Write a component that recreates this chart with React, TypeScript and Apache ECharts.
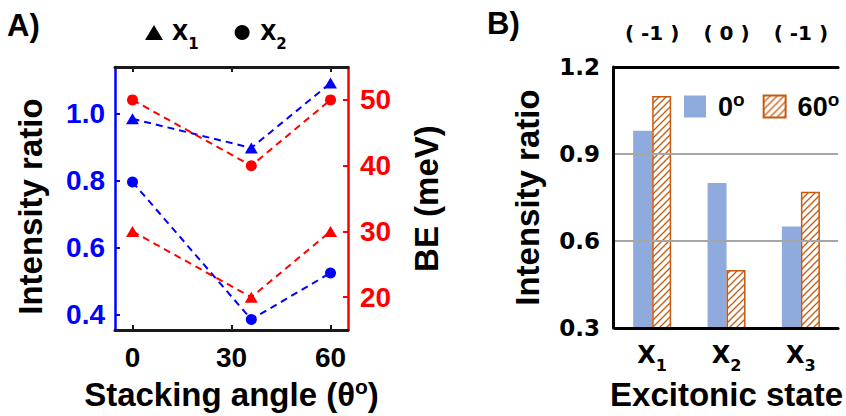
import React, { useEffect, useRef } from 'react';
import * as echarts from 'echarts';

// ---- Panel A data ----
const angles = [0, 36, 60];
const x1Ratio = [0.985, 0.898, 1.092];
const x2Ratio = [0.796, 0.385, 0.524];
const x1BE = [30, 20, 30];
const x2BE = [50, 40, 50];
const angleTicks = [0, 30, 60];
const ratioTicks = [0.4, 0.6, 0.8, 1.0];
const beTicks = [20, 30, 40, 50];

// ---- Panel B data ----
const states = ['X1', 'X2', 'X3'];
const charges = ['( -1 )', '( 0 )', '( -1 )'];
const ratio0 = [0.98, 0.8, 0.65];
const ratio60 = [1.1, 0.5, 0.77];

const FONT = '"Liberation Sans", Arial, Helvetica, sans-serif';
const WIDE = '"DejaVu Sans", Verdana, sans-serif';
const BLUE = '#0000FF';
const RED = '#FF0000';
const BLACK = '#1a1a1a';
const BAR_BLUE = '#8FAADC';
const ORANGE = '#C55A11';

function makeHatch(): HTMLCanvasElement {
  const c = document.createElement('canvas');
  const s = 7;
  c.width = s;
  c.height = s;
  const ctx = c.getContext('2d')!;
  ctx.fillStyle = '#ffffff';
  ctx.fillRect(0, 0, s, s);
  ctx.strokeStyle = ORANGE;
  ctx.lineWidth = 1.3;
  ctx.beginPath();
  ctx.moveTo(-1, s + 1);
  ctx.lineTo(s + 1, -1);
  ctx.moveTo(-1, 1);
  ctx.lineTo(1, -1);
  ctx.moveTo(s - 1, s + 1);
  ctx.lineTo(s + 1, s - 1);
  ctx.stroke();
  return c;
}

const bold = (size: number, color: string, family: string = FONT) => ({
  fontSize: size,
  fontWeight: 'bold' as const,
  color,
  fontFamily: family,
});

export default function App() {
  const ref = useRef<HTMLDivElement>(null);

  useEffect(() => {
    if (!ref.current) return;
    const chart = echarts.init(ref.current, undefined, { renderer: 'svg' });
    const hatch = makeHatch();

    const option: any = {
      animation: false,
      backgroundColor: '#ffffff',
      textStyle: { fontFamily: FONT },
      title: [
        { text: 'A)', left: 7, top: 10, padding: 0, textStyle: bold(31, '#000') },
        { text: 'B)', left: 487, top: 8, padding: 0, textStyle: bold(31, '#000') },
      ],
      legend: [
        {
          left: 145,
          top: 22,
          padding: 0,
          itemWidth: 18,
          itemHeight: 15,
          itemGap: 36,
          selectedMode: false,
          data: [
            { name: 'X1', icon: 'triangle', itemStyle: { color: '#000' } },
            { name: 'X2', icon: 'circle', itemStyle: { color: '#000' } },
          ],
          formatter: (n: string) => `{main|X}{sub|${n.slice(1)}}`,
          textStyle: {
            ...bold(21, '#000', WIDE),
            rich: {
              main: { ...bold(21, '#000', WIDE), padding: [0, 0, 0, 4] },
              sub: { ...bold(15, '#000', WIDE), padding: [22, 0, 0, 0] },
            },
          },
        },
        {
          left: 684,
          top: 90,
          padding: 0,
          itemWidth: 22,
          itemHeight: 22,
          itemGap: 18,
          selectedMode: false,
          data: [
            { name: '0°', icon: 'rect' },
            { name: '60°', icon: 'rect' },
          ],
          formatter: (n: string) => `{n|${n.replace('°', '')}}{o|o}`,
          textStyle: {
            fontWeight: 'bold',
            rich: {
              n: { ...bold(27, '#000'), padding: [0, 0, 0, 7] },
              o: { ...bold(19, '#000'), padding: [0, 0, 14, 0] },
            },
          },
        },
      ],
      grid: [
        { left: 115, top: 67, width: 233, height: 270 },
        { left: 615, top: 67, width: 236, height: 268 },
      ],
      xAxis: [
        {
          gridIndex: 0,
          type: 'value',
          min: -5.3,
          max: 65.3,
          position: 'bottom',
          axisLine: { show: true, onZero: false, lineStyle: { color: BLACK, width: 3 } },
          axisTick: { show: true, inside: true, length: 5, lineStyle: { color: BLACK, width: 2 }, customValues: angleTicks },
          axisLabel: { customValues: angleTicks, margin: 13, ...bold(28, '#000') },
          splitLine: { show: false },
          name: '{t|Stacking angle (θ}{o|o}{t|)}',
          nameLocation: 'middle',
          nameGap: 45,
          nameTextStyle: {
            rich: {
              t: bold(33, '#000'),
              o: { ...bold(21, '#000'), padding: [0, 0, 16, 0] },
            },
          },
        },
        {
          gridIndex: 0,
          type: 'value',
          min: -5.3,
          max: 65.3,
          position: 'top',
          axisLine: { show: true, onZero: false, lineStyle: { color: BLACK, width: 3 } },
          axisTick: { show: true, inside: true, length: 5, lineStyle: { color: BLACK, width: 2 }, customValues: angleTicks },
          axisLabel: { show: false },
          splitLine: { show: false },
        },
        {
          gridIndex: 1,
          type: 'category',
          data: states,
          position: 'bottom',
          z: 3,
          axisLine: { show: true, onZero: false, lineStyle: { color: '#000', width: 3 } },
          axisTick: { show: false },
          axisLabel: {
            interval: 0,
            hideOverlap: false,
            margin: 9,
            ...bold(24, '#000', WIDE),
            formatter: (v: string) => `{main|X}{sub|${v.slice(1)}}`,
            rich: {
              main: bold(24, '#000', WIDE),
              sub: { ...bold(16, '#000', WIDE), padding: [20, 0, 0, 0] },
            },
          },
          name: 'Excitonic state',
          nameLocation: 'middle',
          nameGap: 48,
          nameTextStyle: bold(33, '#000'),
        },
        {
          gridIndex: 1,
          type: 'category',
          data: charges,
          position: 'top',
          z: 3,
          axisLine: { show: true, onZero: false, lineStyle: { color: '#000', width: 3 } },
          axisTick: { show: false },
          axisLabel: { interval: 0, hideOverlap: false, margin: 24, ...bold(20, '#000', WIDE) },
        },
      ],
      yAxis: [
        {
          gridIndex: 0,
          type: 'value',
          position: 'left',
          min: 0.353,
          max: 1.14,
          axisLine: { show: true, onZero: false, lineStyle: { color: BLUE, width: 2.5 } },
          axisTick: { show: true, inside: true, length: 5, lineStyle: { color: BLUE, width: 2 }, customValues: ratioTicks },
          axisLabel: { customValues: ratioTicks, margin: 10, formatter: (v: number) => v.toFixed(1), ...bold(28, BLUE) },
          splitLine: { show: false },
          name: 'Intensity ratio',
          nameLocation: 'middle',
          nameGap: 68,
          nameTextStyle: { ...bold(33, '#000'), padding: [0, 16, 0, 0] },
        },
        {
          gridIndex: 0,
          type: 'value',
          position: 'right',
          min: 15,
          max: 55,
          axisLine: { show: true, onZero: false, lineStyle: { color: RED, width: 2.5 } },
          axisTick: { show: true, inside: true, length: 5, lineStyle: { color: RED, width: 2 }, customValues: beTicks },
          axisLabel: { customValues: beTicks, margin: 12, formatter: (v: number) => String(v), ...bold(28, RED) },
          splitLine: { show: false },
          name: 'BE (meV)',
          nameLocation: 'middle',
          nameGap: 62,
          nameTextStyle: bold(33, '#000'),
        },
        {
          gridIndex: 1,
          type: 'value',
          min: 0.3,
          max: 1.2,
          interval: 0.3,
          offset: 2,
          z: 3,
          axisLine: { show: true, onZero: false, lineStyle: { color: '#000', width: 3 } },
          axisTick: { show: false },
          axisLabel: { margin: 13, formatter: (v: number) => v.toFixed(1), ...bold(23, '#000', WIDE) },
          splitLine: { show: true, showMinLine: false, showMaxLine: false, lineStyle: { color: '#A6A6A6', width: 2 } },
          name: 'Intensity ratio',
          nameLocation: 'middle',
          nameGap: 69,
          nameTextStyle: bold(33, '#000'),
        },
      ],
      series: [
        {
          name: 'X1',
          type: 'line',
          xAxisIndex: 0,
          yAxisIndex: 0,
          data: angles.map((a, i) => [a, x1Ratio[i]]),
          symbol: 'triangle',
          symbolSize: [13, 11],
          itemStyle: { color: BLUE },
          lineStyle: { color: BLUE, width: 2, type: [7, 5] },
        },
        {
          name: 'X2',
          type: 'line',
          xAxisIndex: 0,
          yAxisIndex: 0,
          data: angles.map((a, i) => [a, x2Ratio[i]]),
          symbol: 'circle',
          symbolSize: 11,
          itemStyle: { color: BLUE },
          lineStyle: { color: BLUE, width: 2, type: [7, 5] },
        },
        {
          name: 'X1',
          type: 'line',
          xAxisIndex: 0,
          yAxisIndex: 1,
          data: angles.map((a, i) => [a, x1BE[i]]),
          symbol: 'triangle',
          symbolSize: [13, 11],
          itemStyle: { color: RED },
          lineStyle: { color: RED, width: 2, type: [7, 5] },
        },
        {
          name: 'X2',
          type: 'line',
          xAxisIndex: 0,
          yAxisIndex: 1,
          data: angles.map((a, i) => [a, x2BE[i]]),
          symbol: 'circle',
          symbolSize: 11,
          itemStyle: { color: RED },
          lineStyle: { color: RED, width: 2, type: [7, 5] },
        },
        {
          name: '0°',
          type: 'bar',
          xAxisIndex: 2,
          yAxisIndex: 2,
          data: ratio0,
          barWidth: 19,
          barGap: '0%',
          itemStyle: { color: BAR_BLUE },
        },
        {
          name: '60°',
          type: 'bar',
          xAxisIndex: 2,
          yAxisIndex: 2,
          data: ratio60,
          barWidth: 19,
          barGap: '0%',
          itemStyle: { color: { image: hatch, repeat: 'repeat' }, borderColor: ORANGE, borderWidth: 1.5 },
        },
      ],
    };

    chart.setOption(option);
    return () => {
      chart.dispose();
    };
  }, []);

  return (
    <div
      ref={ref}
      style={{ position: 'fixed', left: 0, top: 0, width: 846, height: 416, background: '#fff' }}
    />
  );
}
